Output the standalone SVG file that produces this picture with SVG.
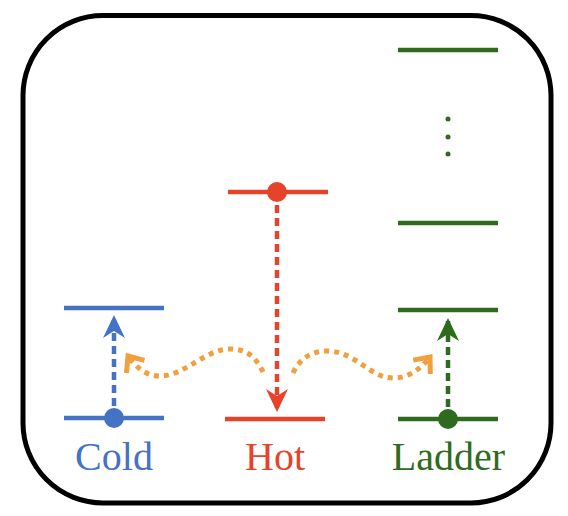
<svg xmlns="http://www.w3.org/2000/svg" width="568" height="516" viewBox="0 0 568 516">
<defs>
<style>
.lvl{stroke-width:4.5;fill:none}
.blue{stroke:#4472C4}
.red{stroke:#E5432A}
.green{stroke:#2E6B1F}
.dash{stroke-width:4.5;stroke-dasharray:8 5;fill:none}
.wave{stroke:#F0A03C;stroke-width:5;stroke-dasharray:5 5;fill:none}
.lbl{font-family:"Liberation Serif","DejaVu Serif",serif;font-size:40px;text-anchor:middle}
</style>
<marker id="hb" markerUnits="userSpaceOnUse" viewBox="-26 -13 28 26" refX="0" refY="0" markerWidth="28" markerHeight="26" orient="auto"><path d="M0,0 L-23,-11 L-16,0 L-23,11 Z" fill="#4472C4"/></marker>
<marker id="hr" markerUnits="userSpaceOnUse" viewBox="-26 -13 28 26" refX="0" refY="0" markerWidth="28" markerHeight="26" orient="auto"><path d="M0,0 L-23,-11 L-16,0 L-23,11 Z" fill="#E5432A"/></marker>
<marker id="hg" markerUnits="userSpaceOnUse" viewBox="-26 -13 28 26" refX="0" refY="0" markerWidth="28" markerHeight="26" orient="auto"><path d="M0,0 L-23,-11 L-16,0 L-23,11 Z" fill="#2E6B1F"/></marker>
<marker id="ho" markerUnits="userSpaceOnUse" viewBox="-18 -14 22 28" refX="0" refY="0" markerWidth="22" markerHeight="28" orient="auto"><path d="M-13,-11 L0,0 L-13,11" fill="none" stroke="#F0A03C" stroke-width="5" stroke-linejoin="miter"/></marker>
</defs>
<rect id="frame" x="23" y="15.5" width="528" height="487.5" rx="80" ry="80" fill="none" stroke="#000" stroke-width="5"/>
<g id="cold">
<line class="lvl blue" x1="64" y1="308" x2="164" y2="308"/>
<line class="lvl blue" x1="64" y1="418" x2="164" y2="418"/>
<circle cx="114" cy="418" r="10" fill="#4472C4"/>
<text class="lbl" x="114" y="470" fill="#4472C4">Cold</text>
</g>
<g id="hot">
<line class="lvl red" x1="228" y1="192" x2="328" y2="192"/>
<line class="lvl red" x1="225" y1="419" x2="325" y2="419"/>
<circle cx="277" cy="192" r="10" fill="#E5432A"/>
<text class="lbl" x="275" y="470" fill="#E5432A">Hot</text>
</g>
<g id="ladder">
<line class="lvl green" x1="398" y1="50" x2="498" y2="50"/>
<line class="lvl green" x1="398" y1="223" x2="498" y2="223"/>
<line class="lvl green" x1="398" y1="310" x2="498" y2="310"/>
<line class="lvl green" x1="398" y1="419" x2="498" y2="419"/>
<circle cx="448" cy="419" r="10" fill="#2E6B1F"/>
<circle cx="448" cy="119" r="2.5" fill="#2E6B1F"/>
<circle cx="448" cy="137" r="2.5" fill="#2E6B1F"/>
<circle cx="448" cy="154" r="2.5" fill="#2E6B1F"/>
<text class="lbl" x="448.5" y="470" fill="#2E6B1F">Ladder</text>
</g>
<g id="connectors">
<line class="dash blue" x1="114" y1="406" x2="114" y2="315" marker-end="url(#hb)"/>
<line class="dash red" x1="277" y1="205" x2="277" y2="412" marker-end="url(#hr)"/>
<line class="dash green" x1="448" y1="407" x2="448" y2="318" marker-end="url(#hg)"/>
<path class="wave" d="M263,372 C255,355 245,349 230,349 C205,349 185,376 160,376 C145,376 135,366 128,356" marker-end="url(#ho)"/>
<path class="wave" d="M293,373 C300,358 312,351 327,351 C355,351 370,378 393,378 C410,378 421,368 430,357" marker-end="url(#ho)"/>
</g>
</svg>
